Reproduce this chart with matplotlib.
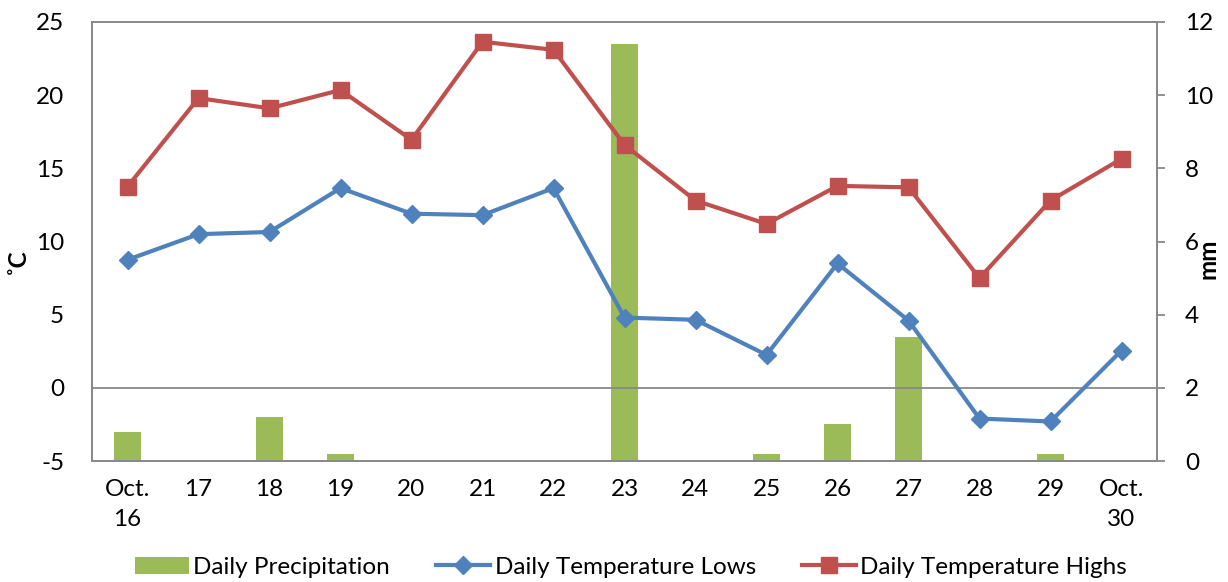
import matplotlib
matplotlib.use("Agg")
import matplotlib.pyplot as plt
import numpy as np

plt.rcParams['font.family'] = ['Lato', 'DejaVu Sans']
plt.rcParams['axes.unicode_minus'] = False

categories = ["Oct.\n16", "17", "18", "19", "20", "21", "22", "23", "24", "25",
              "26", "27", "28", "29", "Oct.\n30"]
precip_mm = [0.8, 0.0, 1.2, 0.2, 0.0, 0.0, 0.0, 11.4, 0.0, 0.2, 1.0, 3.4, 0.0, 0.2, 0.0]
temp_lows = [8.75, 10.5, 10.65, 13.65, 11.9, 11.8, 13.65, 4.8, 4.65, 2.25,
             8.5, 4.6, -2.1, -2.3, 2.55]
temp_highs = [13.75, 19.8, 19.1, 20.35, 16.95, 23.65, 23.1, 16.6, 12.8, 11.2,
              13.8, 13.7, 7.5, 12.8, 15.65]

GRAY = '#898989'
RED = '#C0504D'
BLUE = '#4F81BD'
GREEN = '#9BBB59'
FS = 17.5

fig = plt.figure(figsize=(12.28, 5.82), dpi=100)
ax = fig.add_axes([92/1228, 1-461/582, (1157-92)/1228, (461-22)/582])
ax2 = ax.twinx()

x = np.arange(len(categories))
bars = ax2.bar(x, precip_mm, width=0.39, color=GREEN, zorder=2,
               label='Daily Precipitation')
ax2.set_ylim(0, 12)
ax2.set_yticks(np.arange(0, 13, 2))

ln_low, = ax.plot(x, temp_lows, color=BLUE, lw=3, marker='D', markersize=9,
                  label='Daily Temperature Lows', zorder=4)
ln_high, = ax.plot(x, temp_highs, color=RED, lw=3, marker='s', markersize=11,
                   label='Daily Temperature Highs', zorder=5)
ax.axhline(0, color=GRAY, lw=1.3, zorder=1)

ax.set_zorder(ax2.get_zorder() + 1)
ax.patch.set_visible(False)

ax.set_ylim(-5, 25)
ax.set_yticks(np.arange(-5, 26, 5))
ax.set_xlim(-0.5, 14.5)
ax.set_xticks(x)
ax.set_xticklabels(categories, fontsize=FS, linespacing=1.55, va='top')

for a in (ax, ax2):
    for s in a.spines.values():
        s.set_color(GRAY)
        s.set_linewidth(1.3)

ax.tick_params(axis='x', length=0, pad=13, labelsize=FS)
ax.tick_params(axis='y', length=0, pad=20, labelsize=FS)
ax2.tick_params(axis='y', length=6, width=1.3, color=GRAY, direction='out',
                pad=14, labelsize=FS)

ax.set_ylabel('˚C', fontsize=FS, fontweight='bold')
ax2.set_ylabel('mm', fontsize=FS, fontweight='bold')
ax.yaxis.set_label_coords(-0.059, 0.455)
ax2.yaxis.set_label_coords(1.037, 0.46)

fig.legend(handles=[bars, ln_low, ln_high],
           labels=['Daily Precipitation', 'Daily Temperature Lows', 'Daily Temperature Highs'],
           loc='lower center', bbox_to_anchor=(0.514, -0.03), ncol=3, frameon=False,
           fontsize=FS, handlelength=2.2, handletextpad=0.2, columnspacing=1.9)

fig.savefig('out.png', dpi=100)
